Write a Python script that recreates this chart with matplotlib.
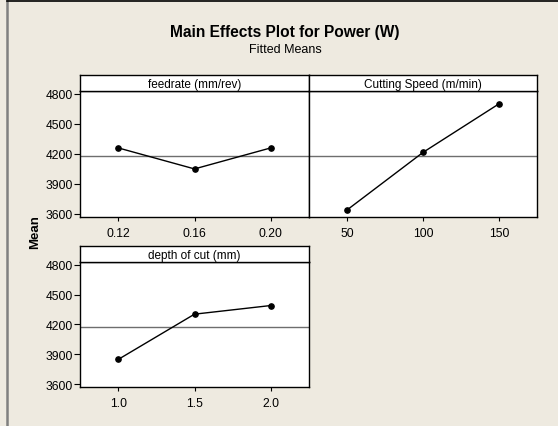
import matplotlib
matplotlib.use("Agg")
import matplotlib.pyplot as plt
from matplotlib.lines import Line2D
import numpy as np

plt.rcParams['font.family'] = ['Liberation Sans', 'DejaVu Sans']

# fitted means
feed_levels = ["0.12", "0.16", "0.20"]
feed_means = [4260, 4050, 4260]
speed_levels = ["50", "100", "150"]
speed_means = [3640, 4215, 4700]
depth_levels = ["1.0", "1.5", "2.0"]
depth_means = [3847, 4303, 4390]
grand_mean = 4177

y_ticks = [3600, 3900, 4200, 4500, 4800]
bg = '#EEEAE0'

fig = plt.figure(figsize=(5.58, 4.27), dpi=100)
fig.patch.set_facecolor(bg)

W, H = 558.0, 427.0

def panel(x0, x1, top, strip_h, bottom, title, levels, means, show_y):
    # data area
    ax = fig.add_axes([x0 / W, 1 - bottom / H, (x1 - x0) / W, (bottom - top - strip_h) / H])
    ax.set_facecolor('white')
    xs = np.arange(len(levels))
    ax.axhline(grand_mean, color='#6E6E6E', lw=1.0, zorder=1)
    ax.plot(xs, means, color='black', lw=1.0, marker='o', ms=3.8, zorder=3)
    ax.set_xlim(-0.5, len(levels) - 0.5)
    ax.set_ylim(3570, 4828)
    ax.set_xticks(xs)
    ax.set_xticklabels(levels, fontsize=8.7)
    ax.set_yticks(y_ticks)
    if show_y:
        ax.set_yticklabels([str(v) for v in y_ticks], fontsize=8.7)
        ax.tick_params(axis='y', length=4, width=0.8, pad=1)
    else:
        ax.tick_params(axis='y', left=False, labelleft=False)
    ax.tick_params(axis='x', length=3, width=0.8, pad=4)
    for s in ax.spines.values():
        s.set_color('black')
        s.set_linewidth(1.0)
    # strip on top
    st = fig.add_axes([x0 / W, 1 - (top + strip_h) / H, (x1 - x0) / W, strip_h / H])
    st.set_facecolor('white')
    st.set_xticks([])
    st.set_yticks([])
    for s in st.spines.values():
        s.set_color('black')
        s.set_linewidth(1.0)
    st.text(0.5, 0.45, title, ha='center', va='center', fontsize=8.5, transform=st.transAxes)
    return ax

panel(80, 309, 76, 16, 218, "feedrate (mm/rev)", feed_levels, feed_means, True)
panel(309, 537, 76, 16, 218, "Cutting Speed (m/min)", speed_levels, speed_means, False)
panel(80, 309, 247, 16, 388, "depth of cut (mm)", depth_levels, depth_means, True)

fig.text(285 / W, 1 - 33 / H, "Main Effects Plot for Power (W)", ha='center', va='center',
         fontsize=11.2, fontweight='bold')
fig.text(285 / W, 1 - 50 / H, "Fitted Means", ha='center', va='center', fontsize=9)
fig.text(35 / W, 1 - 232 / H, "Mean", ha='center', va='center', rotation=90,
         fontsize=9.5, fontweight='bold')

# outer frame lines
fig.add_artist(Line2D([7 / W, 7 / W], [0, 1 - 2 / H], color='#808080', lw=1.8))
fig.add_artist(Line2D([7 / W, 1], [1 - 2 / H, 1 - 2 / H], color='black', lw=1.2))

fig.savefig("out.png", dpi=100, facecolor=bg)
